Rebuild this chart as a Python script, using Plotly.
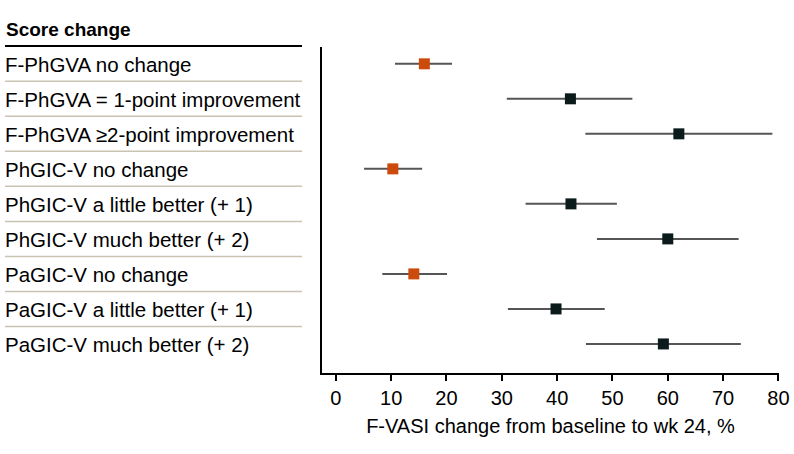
import plotly.graph_objects as go

labels = [
    "F-PhGVA no change",
    "F-PhGVA = 1-point improvement",
    "F-PhGVA ≥2-point improvement",
    "PhGIC-V no change",
    "PhGIC-V a little better (+ 1)",
    "PhGIC-V much better (+ 2)",
    "PaGIC-V no change",
    "PaGIC-V a little better (+ 1)",
    "PaGIC-V much better (+ 2)",
]
estimate = [16.0, 42.4, 62.0, 10.3, 42.5, 60.0, 14.1, 39.8, 59.2]
ci_low = [10.7, 30.9, 45.1, 5.1, 34.3, 47.2, 8.4, 31.1, 45.2]
ci_high = [21.0, 53.6, 78.9, 15.6, 50.8, 72.8, 20.1, 48.6, 73.2]
is_no_change = [True, False, False, True, False, False, True, False, False]
x_ticks = [0, 10, 20, 30, 40, 50, 60, 70, 80]

FONT = "Liberation Sans, Arial, sans-serif"
ORANGE = "#cc4b0c"
DARK = "#0b1a1a"

W, H = 794, 454          # reference pixel space
FIG_W = 805              # rendered width (the capture is squeezed to 794)
fig = go.Figure()

ypos = list(range(len(labels)))
colors = [ORANGE if n else DARK for n in is_no_change]
fig.add_trace(go.Scatter(
    x=estimate, y=ypos, mode="markers",
    marker=dict(symbol="square", size=11, color=colors, line=dict(width=0)),
    error_x=dict(type="data", symmetric=False,
                 array=[h - e for h, e in zip(ci_high, estimate)],
                 arrayminus=[e - l for e, l in zip(estimate, ci_low)],
                 color="#555555", thickness=2, width=0),
    showlegend=False, hoverinfo="skip",
))

annotations = [dict(text="<b>Score change</b>", xref="paper", yref="paper", x=4 / W, y=1 - 30 / H,
                    xanchor="left", yanchor="middle", showarrow=False,
                    font=dict(family=FONT, size=19, color="black"))]
for i, lab in enumerate(labels):
    annotations.append(dict(text=lab, xref="paper", yref="y", x=3 / W, y=i + 0.03,
                            xanchor="left", yanchor="middle", showarrow=False,
                            font=dict(family=FONT, size=20.5, color="black")))

shapes = [dict(type="line", xref="paper", yref="paper", x0=5 / W, x1=302 / W,
               y0=1 - 46 / H, y1=1 - 46 / H, line=dict(color="black", width=2))]
for i in range(len(labels) - 1):
    shapes.append(dict(type="line", xref="paper", yref="y", x0=5 / W, x1=302 / W,
                       y0=i + 0.5, y1=i + 0.5, line=dict(color="#c9c4b2", width=1.5)))

fig.update_layout(
    width=FIG_W, height=H, autosize=False, margin=dict(l=0, r=0, t=0, b=0),
    paper_bgcolor="white", plot_bgcolor="white",
    font=dict(family=FONT, size=20, color="black"),
    annotations=annotations, shapes=shapes,
    xaxis=dict(domain=[322 / W, 779 / W], range=[-2.5, 80.1], tickvals=x_ticks,
               ticks="outside", ticklen=6, tickwidth=1.5, tickcolor="black",
               showline=True, linecolor="black", linewidth=1.5, showgrid=False, zeroline=False,
               tickfont=dict(family=FONT, size=20),
               title=dict(text="F-VASI change from baseline to wk 24, %", standoff=11,
                          font=dict(family=FONT, size=20))),
    yaxis=dict(domain=[(H - 373) / H, (H - 47) / H], range=[8.83, -0.48],
               showticklabels=False, ticks="", showline=True, linecolor="black", linewidth=1.5,
               showgrid=False, zeroline=False),
)

fig.write_html("out.html",
               config={"displayModeBar": False, "responsive": False},
               post_script="document.documentElement.style.overflow='hidden';"
                           "document.documentElement.style.margin='0';"
                           "document.body.style.margin='0';document.body.style.padding='0';"
                           "document.body.style.overflow='hidden';")
